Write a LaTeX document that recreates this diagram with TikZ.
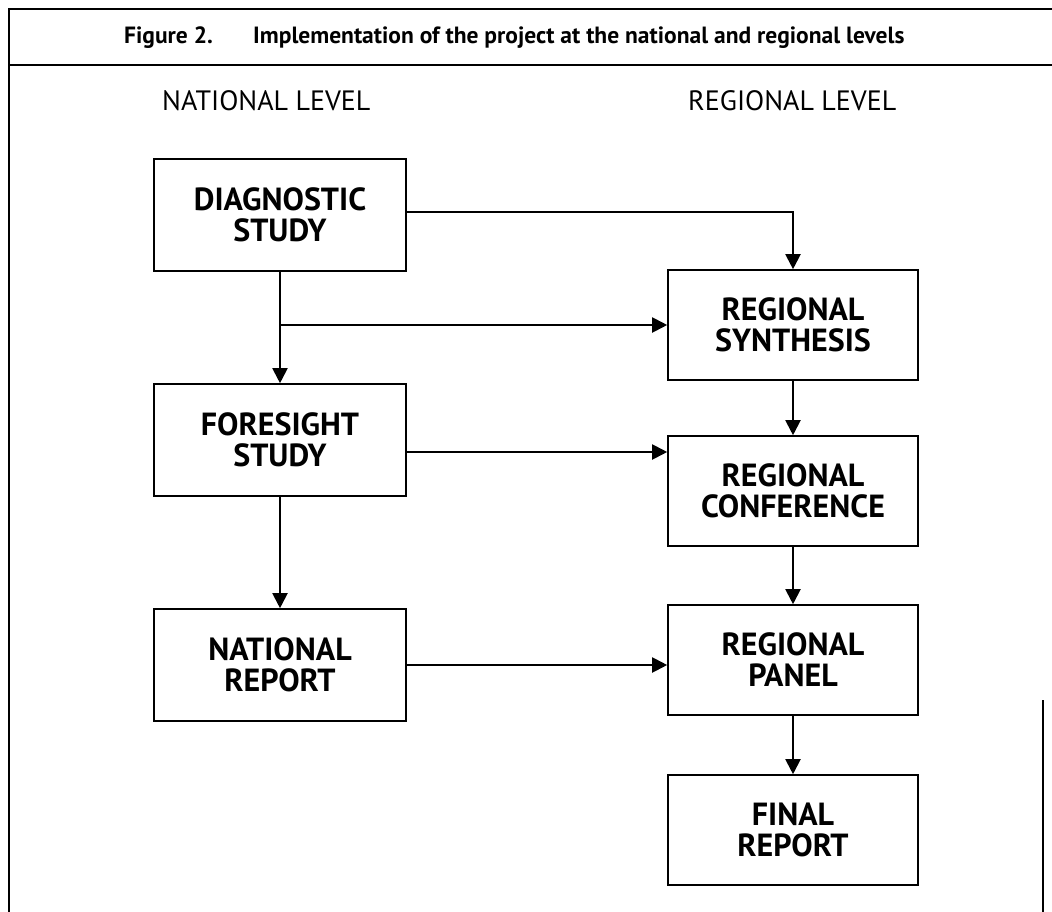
\documentclass[tikz,border=0pt]{standalone}
\usepackage{fontspec}
\setmainfont{PT Sans}
\usetikzlibrary{arrows.meta}
\begin{document}
\begin{tikzpicture}[x=1pt,y=-1pt,
  stepbox/.style={draw, line width=1.6pt, rectangle, align=center, inner sep=0pt,
    font=\bfseries\fontsize{32}{31}\selectfont},
  lbox/.style={stepbox, minimum width=252pt, minimum height=112pt},
  rbox/.style={stepbox, minimum width=250pt, minimum height=110pt},
  arr/.style={line width=2pt, -{Triangle[length=15pt,width=15pt]}},
  frame/.style={line width=1.6pt},
  heading/.style={anchor=base west, inner sep=0pt, font=\bfseries\fontsize{23.5}{25}\selectfont},
  level/.style={anchor=base west, inner sep=0pt, font=\fontsize{28}{30}\selectfont}]
\useasboundingbox (0,0) rectangle (1052,912);

% outer frame and heading rule
\draw[frame] (1052,9) -- (9,9) -- (9,912);
\draw[frame] (9,65) -- (1052,65);
\draw[frame] (1043,700) -- (1043,912);

% heading
\node[heading] (fig) at (124,44) {Figure 2.};
\node[heading] (title) at (253,44) {Implementation of the project at the national and regional levels};

% column headings
\node[level] (natl) at (162,111) {NATIONAL LEVEL};
\node[level] (regl) at (688,111) {REGIONAL LEVEL};

% national level
\node[lbox] (diag) at (280,215) {DIAGNOSTIC\\STUDY};
\node[lbox] (fore) at (280,440) {FORESIGHT\\STUDY};
\node[lbox] (nat)  at (280,665) {NATIONAL\\REPORT};

% regional level
\node[rbox] (syn)  at (793,325) {REGIONAL\\SYNTHESIS};
\node[rbox] (conf) at (793,491) {REGIONAL\\CONFERENCE};
\node[rbox] (pan)  at (793,660) {REGIONAL\\PANEL};
\node[rbox] (fin)  at (793,830) {FINAL\\REPORT};

% connectors
\draw[arr] ([yshift=3pt]diag.east) -| (syn.north);
\draw[arr] (diag.south) -- (fore.north);
\coordinate (b1) at (280,325);
\draw[arr] (b1) -- (b1 -| syn.west);
\draw[arr] (syn.south) -- (conf.north);
\coordinate (f1) at ([yshift=-12pt]fore.east);
\draw[arr] (f1) -- (f1 -| conf.west);
\draw[arr] (fore.south) -- (nat.north);
\draw[arr] (conf.south) -- (pan.north);
\draw[arr] (nat.east) -- (nat.east -| pan.west);
\draw[arr] (pan.south) -- (fin.north);
\end{tikzpicture}
\end{document}
